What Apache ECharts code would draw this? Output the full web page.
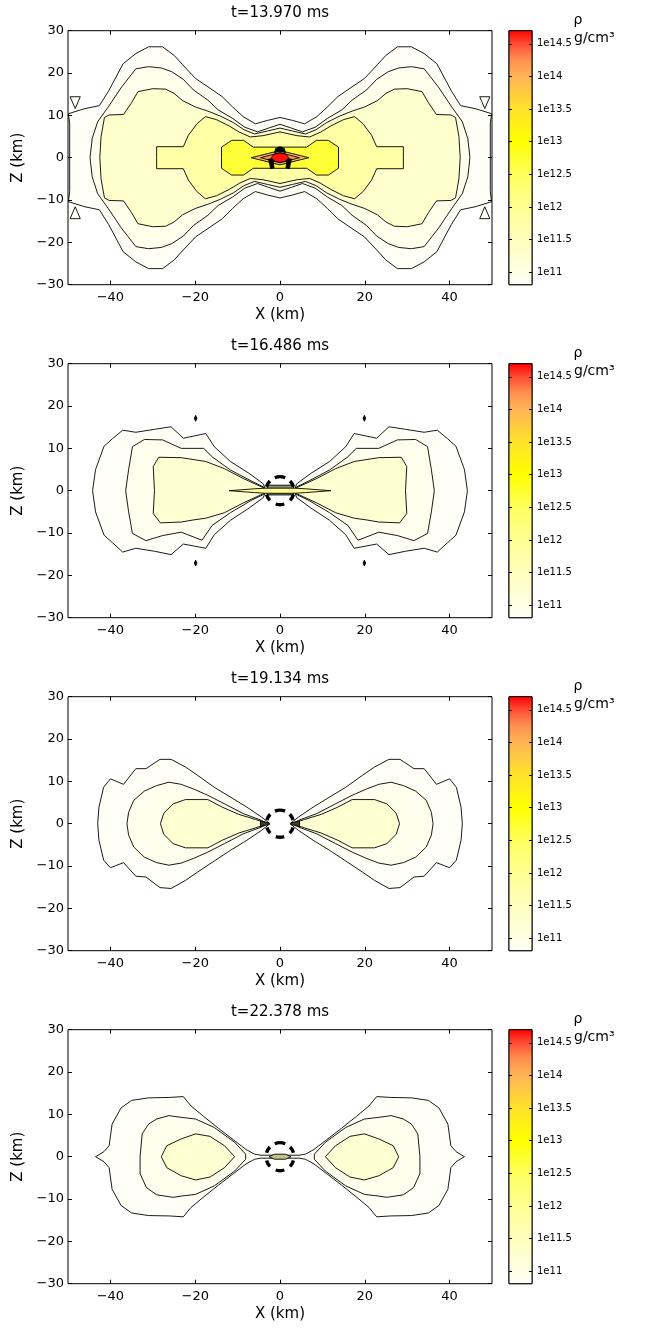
<!DOCTYPE html>
<html><head><meta charset="utf-8">
<script src="https://cdn.jsdelivr.net/npm/echarts@6/dist/echarts.min.js"></script>
<style>html,body{margin:0;padding:0;background:#fff}#c{width:646px;height:1328px}</style>
</head><body><div id="c"></div>
<script>
// ---------------- data ----------------
const titles = ['t=13.970 ms', 't=16.486 ms', 't=19.134 ms', 't=22.378 ms'];
const xRange = [-50, 50];
const zRange = [-30, 30];
const xTicks = [-40, -20, 0, 20, 40];
const cbRange = [10.81, 14.7];
const cbTicks = [11, 11.5, 12, 12.5, 13, 13.5, 14, 14.5];
const cbTickLabels = ['1e11', '1e11.5', '1e12', '1e12.5', '1e13', '1e13.5', '1e14', '1e14.5'];
const cmapValues = [10.81, 11.0, 11.5, 12.0, 12.5, 13.0, 13.5, 14.0, 14.25, 14.5, 14.7];
const cmapColors = ['#fffff8', '#ffffe6', '#ffffbe', '#ffff94', '#ffff5e', '#ffff00', '#ffe22a', '#ffb456', '#ff9050', '#ff4a34', '#ff0000'];

// panel 1 (t=13.970 ms)
const p1A = [[-49.9,10.4],[-46,11.6],[-42.6,12.3],[-40.4,15.8],[-37,22.2],[-34,24.6],[-31,26.2],[-27.7,26.2],[-25,24.2],[-23,22],[-19.9,18.7],[-16.5,16.4],[-13.6,14.4],[-11.2,12],[-8.7,9.7],[-5.8,8],[-3,8.8],[0,9.5],[3,8.8],[5.8,8],[8.7,9.7],[11.2,12],[13.6,14.4],[16.5,16.4],[19.9,18.7],[23,22],[25,24.2],[27.7,26.2],[31,26.2],[34,24.6],[37,22.2],[40.4,15.8],[42.6,12.3],[46,11.6],[49.9,10.4],[49.6,8],[49.6,-8],[49.9,-10.4],[46,-11.6],[42.6,-12.3],[40.4,-15.8],[37,-22.2],[34,-24.6],[31,-26.2],[27.7,-26.2],[25,-24.2],[23,-22],[19.9,-18.7],[16.5,-16.4],[13.6,-14.4],[11.2,-12],[8.7,-9.7],[5.8,-8],[3,-8.8],[0,-9.5],[-3,-8.8],[-5.8,-8],[-8.7,-9.7],[-11.2,-12],[-13.6,-14.4],[-16.5,-16.4],[-19.9,-18.7],[-23,-22],[-25,-24.2],[-27.7,-26.2],[-31,-26.2],[-34,-24.6],[-37,-22.2],[-40.4,-15.8],[-42.6,-12.3],[-46,-11.6],[-49.9,-10.4],[-49.6,-8],[-49.6,8]];
const p1B = [[-44.8,0],[-44.3,4.5],[-43,8.5],[-40.5,12],[-37.5,16.5],[-34,21],[-31,21.5],[-28,21.2],[-25.5,20.3],[-22.8,18.5],[-20.4,16],[-17,13.6],[-14.6,11.3],[-11.2,9.3],[-8.3,7.2],[-5.3,6.1],[-2.7,7],[0,7.9],[2.7,7],[5.3,6.1],[8.3,7.2],[11.2,9.3],[14.6,11.3],[17,13.6],[20.4,16],[22.8,18.5],[25.5,20.3],[28,21.2],[31,21.5],[34,21],[37.5,16.5],[40.5,12],[43,8.5],[44.3,4.5],[44.8,0],[44.3,-4.5],[43,-8.5],[40.5,-12],[37.5,-16.5],[34,-21],[31,-21.5],[28,-21.2],[25.5,-20.3],[22.8,-18.5],[20.4,-16],[17,-13.6],[14.6,-11.3],[11.2,-9.3],[8.3,-7.2],[5.3,-6.1],[2.7,-7],[0,-7.9],[-2.7,-7],[-5.3,-6.1],[-8.3,-7.2],[-11.2,-9.3],[-14.6,-11.3],[-17,-13.6],[-20.4,-16],[-22.8,-18.5],[-25.5,-20.3],[-28,-21.2],[-31,-21.5],[-34,-21],[-37.5,-16.5],[-40.5,-12],[-43,-8.5],[-44.3,-4.5]];
const p1C = [[-42.5,0],[-42.2,5],[-41.4,9.5],[-40.3,10.1],[-36.9,10.2],[-35,13],[-33.5,15.6],[-30,16.3],[-27,16.2],[-25,15.2],[-23,13.5],[-20,12],[-17,11],[-14,9.8],[-11,8.3],[-8.5,6.6],[-6,5.6],[-3,6.3],[0,7],[3,6.3],[6,5.6],[8.5,6.6],[11,8.3],[14,9.8],[17,11],[20,12],[23,13.5],[25,15.2],[27,16.2],[30,16.3],[33.5,15.6],[35,13],[36.9,10.2],[40.3,10.1],[41.4,9.5],[42.2,5],[42.5,0],[42.2,-5],[41.4,-9.5],[40.3,-10.1],[36.9,-10.2],[35,-13],[33.5,-15.6],[30,-16.3],[27,-16.2],[25,-15.2],[23,-13.5],[20,-12],[17,-11],[14,-9.8],[11,-8.3],[8.5,-6.6],[6,-5.6],[3,-6.3],[0,-7],[-3,-6.3],[-6,-5.6],[-8.5,-6.6],[-11,-8.3],[-14,-9.8],[-17,-11],[-20,-12],[-23,-13.5],[-25,-15.2],[-27,-16.2],[-30,-16.3],[-33.5,-15.6],[-35,-13],[-36.9,-10.2],[-40.3,-10.1],[-41.4,-9.5],[-42.2,-5]];
const p1D = [[-29.1,0],[-29.1,2.6],[-22.8,2.6],[-21.6,5.3],[-19.6,8],[-17.6,9.7],[-15,9],[-12,7.5],[-9.5,6],[-7,4.9],[-4,5.2],[0,6.1],[4,5.2],[7,4.9],[9.5,6],[12,7.5],[15,9],[17.6,9.7],[19.6,8],[21.6,5.3],[22.8,2.6],[29.1,2.6],[29.1,0],[29.1,-2.6],[22.8,-2.6],[21.6,-5.3],[19.6,-8],[17.6,-9.7],[15,-9],[12,-7.5],[9.5,-6],[7,-4.9],[4,-5.2],[0,-6.1],[-4,-5.2],[-7,-4.9],[-9.5,-6],[-12,-7.5],[-15,-9],[-17.6,-9.7],[-19.6,-8],[-21.6,-5.3],[-22.8,-2.6],[-29.1,-2.6]];
const p1E = [[-13.8,0],[-13.8,2.5],[-11.4,4.1],[-8.6,4.1],[-6.3,2.5],[6.3,2.5],[8.6,4.1],[11.4,4.1],[13.8,2.5],[13.8,-2.5],[11.4,-4.1],[8.6,-4.1],[6.3,-2.5],[-6.3,-2.5],[-8.6,-4.1],[-11.4,-4.1],[-13.8,-2.5]];
const p1F = [[-6.8,0],[0,1.7],[6.8,0],[0,-1.7]];
const p1G = [[-4.6,0],[0,1.2],[4.6,0],[0,-1.2]];
const p1H = [[-2.1,0],[-1.4,0.8],[0,1.1],[1.4,0.8],[2.1,0],[1.4,-0.8],[0,-1.1],[-1.4,-0.8]];
const p1T1 = [[-49.5,14.4],[-47.1,14.4],[-48.3,11.6]];
const p1T2 = [[-49.5,-14.4],[-47.1,-14.4],[-48.3,-11.6]];
const p1T3 = [[47.1,14.4],[49.5,14.4],[48.3,11.6]];
const p1T4 = [[47.1,-14.4],[49.5,-14.4],[48.3,-11.6]];
const p1Levels = [10.82, 10.95, 11.3, 11.8, 12.7, 13.95, 14.2, 14.65, 10.82, 10.82, 10.82, 10.82];
const p1K1 = [[-1.3,1.2],[-1.0,2.2],[0,2.6],[1.0,2.2],[1.3,1.2],[0,1.5]];
const p1K2 = [[-2.7,-0.3],[-1.7,-0.3],[-1.4,-2.4],[-2.2,-2.6]];
const p1K3 = [[1.7,-0.3],[2.7,-0.3],[2.2,-2.6],[1.4,-2.4]];

// panel 2 (t=16.486 ms)
const p2AL = [[-44.2,0],[-43.5,5],[-41.5,10.5],[-39.5,12.3],[-37.1,14.3],[-34,13.8],[-29.6,14.5],[-25.7,15.1],[-22.8,12.4],[-17.5,13.5],[-15.5,10.4],[-11.7,6.9],[-7.3,4.1],[-3.9,1.6],[-3.4,0],[-3.9,-1.6],[-7.3,-4.1],[-11.7,-7],[-15.5,-10.4],[-17.5,-13.6],[-22.8,-12.6],[-25.7,-15.1],[-29.6,-14.3],[-34,-13.6],[-37.1,-14.5],[-39.5,-12.3],[-41.5,-10.5],[-43.5,-5]];
const p2AR = [[44.2,0],[43.5,5],[41.5,10.5],[39.5,12.3],[37.1,14.3],[34,13.8],[29.6,14.5],[25.7,15.1],[22.8,12.4],[17.5,13.5],[15.5,10.4],[11.7,6.9],[7.3,4.1],[3.9,1.6],[3.4,0],[3.9,-1.6],[7.3,-4.1],[11.7,-7],[15.5,-10.4],[17.5,-13.6],[22.8,-12.6],[25.7,-15.1],[29.6,-14.3],[34,-13.6],[37.1,-14.5],[39.5,-12.3],[41.5,-10.5],[43.5,-5]];
const p2BL = [[-36.4,0],[-35.7,5],[-34.8,10.4],[-32,12.1],[-27.7,12],[-23.3,10],[-18,10],[-16,8],[-11.7,4.9],[-6.8,2.3],[-3.9,0.9],[-3.6,0],[-3.9,-0.9],[-6.8,-2.3],[-11.7,-5.2],[-16,-8.2],[-18.4,-11.7],[-23.3,-9.8],[-27.7,-10.6],[-31.6,-11.8],[-34.8,-10.1],[-35.7,-5]];
const p2BR = [[36.4,0],[35.7,5],[34.8,10.4],[32,12.1],[27.7,12],[23.3,10],[18,10],[16,8],[11.7,4.9],[6.8,2.3],[3.9,0.9],[3.6,0],[3.9,-0.9],[6.8,-2.3],[11.7,-5.2],[16,-8.2],[18.4,-11.7],[23.3,-9.8],[27.7,-10.6],[31.6,-11.8],[34.8,-10.1],[35.7,-5]];
const p2CL = [[-29.6,0],[-29.9,5.7],[-28.6,7.9],[-23.3,7.8],[-17.5,6.9],[-13.1,5.2],[-8.7,2.9],[-3.9,0.7],[-3.7,0],[-3.9,-0.7],[-8.7,-2.9],[-13.1,-5.2],[-17.5,-6.5],[-20.4,-6.9],[-23.3,-7.4],[-28.2,-7.6],[-29.9,-5.4]];
const p2CR = [[29.6,0],[29.9,5.7],[28.6,7.9],[23.3,7.8],[17.5,6.9],[13.1,5.2],[8.7,2.9],[3.9,0.7],[3.7,0],[3.9,-0.7],[8.7,-2.9],[13.1,-5.2],[17.5,-6.5],[20.4,-6.9],[23.3,-7.4],[28.2,-7.6],[29.9,-5.4]];
const p2S = [[-12,0],[-6,0.45],[-3.5,0.6],[3.5,0.6],[6,0.45],[12,0],[6,-0.45],[3.5,-0.6],[-3.5,-0.6],[-6,-0.45]];
const p2Levels = [10.82, 10.82, 10.93, 10.93, 11.25, 11.25];
const p2Box = [[-3,-1],[-3,1.3],[3.2,1.3],[3.2,-1]];
const p2D1 = [[-19.9,16.4],[-19.6,17.1],[-19.9,17.8],[-20.2,17.1]];
const p2D2 = [[19.9,16.4],[20.2,17.1],[19.9,17.8],[19.6,17.1]];
const p2D3 = [[-19.9,-16.4],[-19.6,-17.1],[-19.9,-17.8],[-20.2,-17.1]];
const p2D4 = [[19.9,-16.4],[20.2,-17.1],[19.9,-17.8],[19.6,-17.1]];
const p2SLevel = 12.0;

// panel 3 (t=19.134 ms)
const p3AL = [[-43,0],[-42.7,3.9],[-41.6,8.6],[-40,10.6],[-36.9,9.3],[-34,13],[-31.6,13],[-28.3,15.2],[-25.7,15.2],[-22.3,13.4],[-19.4,11.4],[-15.5,8.6],[-11.7,6.3],[-7.8,3.9],[-4.4,1.6],[-2.6,0.2],[-2.6,-0.2],[-4.4,-1.6],[-7.8,-3.9],[-11.7,-6.3],[-15.5,-8.8],[-19.4,-11.4],[-22.3,-13.4],[-25.7,-15.3],[-28.3,-15.1],[-31.6,-12.6],[-34,-12.4],[-36.9,-9.2],[-40,-10.4],[-41.6,-8.6],[-42.7,-3.9]];
const p3AR = [[43,0],[42.7,3.9],[41.6,8.6],[40,10.6],[36.9,9.3],[34,13],[31.6,13],[28.3,15.2],[25.7,15.2],[22.3,13.4],[19.4,11.4],[15.5,8.6],[11.7,6.3],[7.8,3.9],[4.4,1.6],[2.6,0.2],[2.6,-0.2],[4.4,-1.6],[7.8,-3.9],[11.7,-6.3],[15.5,-8.8],[19.4,-11.4],[22.3,-13.4],[25.7,-15.3],[28.3,-15.1],[31.6,-12.6],[34,-12.4],[36.9,-9.2],[40,-10.4],[41.6,-8.6],[42.7,-3.9]];
const p3BL = [[-36.1,0],[-35.7,2.7],[-34.5,5.5],[-32,7.7],[-29.1,9],[-26.2,9.8],[-23.3,9.3],[-20.4,8.2],[-17,6.7],[-13.1,4.7],[-8.7,2.4],[-4.4,0.8],[-3,0],[-4.4,-0.8],[-8.7,-2.4],[-13.1,-4.7],[-17,-6.7],[-20.4,-8.2],[-23.3,-9.3],[-26.2,-9.8],[-29.1,-9.2],[-32,-7.9],[-34.5,-5.5],[-35.7,-2.7]];
const p3BR = [[36.1,0],[35.7,2.7],[34.5,5.5],[32,7.7],[29.1,9],[26.2,9.8],[23.3,9.3],[20.4,8.2],[17,6.7],[13.1,4.7],[8.7,2.4],[4.4,0.8],[3,0],[4.4,-0.8],[8.7,-2.4],[13.1,-4.7],[17,-6.7],[20.4,-8.2],[23.3,-9.3],[26.2,-9.8],[29.1,-9.2],[32,-7.9],[34.5,-5.5],[35.7,-2.7]];
const p3CL = [[-28.2,0],[-27.4,2.5],[-25.2,4.7],[-22.3,5.7],[-17,5.7],[-13.6,3.9],[-9.7,2.2],[-5.8,1.0],[-3.6,0.25],[-3.6,-0.25],[-5.8,-1.0],[-9.7,-2.2],[-13.6,-3.9],[-17,-5.7],[-22.3,-5.7],[-25.2,-4.7],[-27.4,-2.5]];
const p3CR = [[28.2,0],[27.4,2.5],[25.2,4.7],[22.3,5.7],[17,5.7],[13.6,3.9],[9.7,2.2],[5.8,1.0],[3.6,0.25],[3.6,-0.25],[5.8,-1.0],[9.7,-2.2],[13.6,-3.9],[17,-5.7],[22.3,-5.7],[25.2,-4.7],[27.4,-2.5]];
const p3Levels = [10.82, 10.82, 10.93, 10.93, 11.25, 11.25];
const p3TL = [[-4.6,0.7],[-2.5,0.15],[-2.5,-0.15],[-4.6,-0.7]];
const p3TR = [[4.6,0.7],[2.5,0.15],[2.5,-0.15],[4.6,-0.7]];

// panel 4 (t=22.378 ms)
const p4A = [[-43.5,0],[-41.5,1.2],[-40.3,2.6],[-39.6,7.7],[-37.5,11.5],[-35,13.3],[-31,13.9],[-26,14],[-22.8,14.2],[-21,12],[-18,9.5],[-14.5,6.7],[-11,4],[-8,1.7],[-6,0.6],[-4.5,0.35],[4.5,0.35],[6,0.6],[8,1.7],[11,4],[14.5,6.7],[18,9.5],[21,12],[22.8,14.2],[26,14],[31,13.9],[35,13.3],[37.5,11.5],[39.6,7.7],[40.3,2.6],[41.5,1.2],[43.5,0],[41.5,-1.2],[40.3,-2.6],[39.6,-7.7],[37.5,-11.5],[35,-13.3],[31,-13.9],[26,-14],[22.8,-14.2],[21,-12],[18,-9.5],[14.5,-6.7],[11,-4],[8,-1.7],[6,-0.6],[4.5,-0.35],[-4.5,-0.35],[-6,-0.6],[-8,-1.7],[-11,-4],[-14.5,-6.7],[-18,-9.5],[-21,-12],[-22.8,-14.2],[-26,-14],[-31,-13.9],[-35,-13.3],[-37.5,-11.5],[-39.6,-7.7],[-40.3,-2.6],[-41.5,-1.2]];
const p4BL = [[-33,0],[-32.5,5.4],[-31,7.7],[-29.1,8.9],[-26.2,9.7],[-23.3,9.3],[-19.9,8.9],[-15.5,6.9],[-10.7,3.4],[-8.1,0.6],[-8.1,-0.6],[-10.7,-3.4],[-15.5,-6.9],[-19.9,-8.9],[-23.3,-9.3],[-25.2,-9.6],[-29.1,-9],[-31.5,-7.3],[-33,-4]];
const p4BR = [[33,0],[32.5,5.4],[31,7.7],[29.1,8.9],[26.2,9.7],[23.3,9.3],[19.9,8.9],[15.5,6.9],[10.7,3.4],[8.1,0.6],[8.1,-0.6],[10.7,-3.4],[15.5,-6.9],[19.9,-8.9],[23.3,-9.3],[25.2,-9.6],[29.1,-9],[31.5,-7.3],[33,-4]];
const p4CL = [[-28,0],[-26.7,2.6],[-23.3,4.2],[-19.9,5.4],[-16.5,4.8],[-13.1,2.6],[-10.7,0],[-13.1,-2.6],[-16.5,-4.8],[-19.9,-5.5],[-23.3,-4.5],[-26.7,-2.6]];
const p4CR = [[28,0],[26.7,2.6],[23.3,4.2],[19.9,5.4],[16.5,4.8],[13.1,2.6],[10.7,0],[13.1,-2.6],[16.5,-4.8],[19.9,-5.5],[23.3,-4.5],[26.7,-2.6]];
const p4Levels = [10.82, 10.93, 10.93, 11.25, 11.25];
const p4Core = [[-2.6,0],[-1.3,0.6],[1.3,0.6],[2.6,0],[1.3,-0.6],[-1.3,-0.6]];

// dashed ring (km) around the centre in panels 2-4
const ringCenter = [0, 0];
const ringRadius = [null, 3.3, 3.2, 3.3];

// ---------------- helpers ----------------
function hex2rgb(h){return [parseInt(h.slice(1,3),16),parseInt(h.slice(3,5),16),parseInt(h.slice(5,7),16)];}
function cmap(v){
  if (v <= cmapValues[0]) return cmapColors[0];
  for (let k = 0; k < cmapValues.length - 1; k++) {
    if (v <= cmapValues[k+1]) {
      const t = (v - cmapValues[k]) / (cmapValues[k+1] - cmapValues[k]);
      const a = hex2rgb(cmapColors[k]), b = hex2rgb(cmapColors[k+1]);
      return 'rgb(' + a.map((c,i)=>Math.round(c + (b[i]-c)*t)).join(',') + ')';
    }
  }
  return cmapColors[cmapColors.length-1];
}
const FONT = 'DejaVu Sans';
const fmtMinus = v => (v < 0 ? '\u2212' + Math.abs(v) : String(v));

const panels = [
  { polys: [p1A,p1B,p1C,p1D,p1E,p1F,p1G,p1H,p1T1,p1T2,p1T3,p1T4], levels: p1Levels,
    solids: [[p1K1,'#000'],[p1K2,'#000'],[p1K3,'#000']] },
  { polys: [p2AL,p2AR,p2BL,p2BR,p2CL,p2CR], levels: p2Levels,
    solids: [[p2Box,'#8e8e72'],[p2S,cmap(p2SLevel)],[p2D1,'#000'],[p2D2,'#000'],[p2D3,'#000'],[p2D4,'#000']] },
  { polys: [p3AL,p3AR,p3BL,p3BR,p3CL,p3CR], levels: p3Levels,
    solids: [[p3TL,'#3a3a30'],[p3TR,'#3a3a30']] },
  { polys: [p4A,p4BL,p4BR,p4CL,p4CR], levels: p4Levels,
    solids: [[p4Core,'#c2c288']] }
];

const tops = [30.7, 363.7, 696.7, 1029.7];
const grids = [], xAxes = [], yAxes = [], series = [], gfx = [];

function mainX(gi, pos, withLabels){
  return { type:'value', gridIndex:gi, position:pos, min:xRange[0], max:xRange[1], z:10,
    axisLine:{show:false, onZero:false}, splitLine:{show:false},
    axisTick:{show:true, inside:true, length:4, customValues:xTicks, lineStyle:{color:'#000', width:1}},
    axisLabel: withLabels ? {show:true, customValues:xTicks, margin:6, fontFamily:FONT, fontSize:13, color:'#000', formatter:fmtMinus} : {show:false},
    name: withLabels ? 'X (km)' : '', nameLocation:'middle', nameGap:23,
    nameTextStyle:{fontFamily:FONT, fontSize:15, color:'#000'} };
}
function mainY(gi, pos, withLabels){
  return { type:'value', gridIndex:gi, position:pos, min:zRange[0], max:zRange[1], interval:10, z:10,
    axisLine:{show:false, onZero:false}, splitLine:{show:false},
    axisTick:{show:true, inside:true, length:4, lineStyle:{color:'#000', width:1}},
    axisLabel: withLabels ? {show:true, margin:4, fontFamily:FONT, fontSize:13, color:'#000', formatter:fmtMinus} : {show:false},
    name: withLabels ? 'Z (km)' : '', nameLocation:'middle', nameGap:31, nameRotate:90,
    nameTextStyle:{fontFamily:FONT, fontSize:15, color:'#000'} };
}
function cbY(gi, pos, withLabels){
  return { type:'value', gridIndex:gi, position:pos, min:cbRange[0], max:cbRange[1], z:10,
    axisLine:{show:false, onZero:false}, splitLine:{show:false},
    axisTick:{show:true, inside:true, length:3, customValues:cbTicks, lineStyle:{color:'#000', width:1}},
    axisLabel: withLabels ? {show:true, customValues:cbTicks, margin:5, fontFamily:FONT, fontSize:10, color:'#000',
      formatter: v => { const k = cbTicks.findIndex(t => Math.abs(t - v) < 1e-6); return k >= 0 ? cbTickLabels[k] : ''; }} : {show:false} };
}

const ringArcs = [[90,22],[150,14],[210,14],[270,18],[330,14],[30,14]];

panels.forEach((P, i) => {
  const T = tops[i];
  const gm = grids.length;
  grids.push({left:68, top:T, width:424, height:254, show:true, borderColor:'#000', borderWidth:1, backgroundColor:'#fff'});
  const gc = grids.length;
  grids.push({left:509, top:T, width:23, height:254, show:true, borderColor:'#000', borderWidth:1, backgroundColor:'#fff'});
  const xm = xAxes.length; xAxes.push(mainX(gm,'bottom',true)); xAxes.push(mainX(gm,'top',false));
  const xc = xAxes.length; xAxes.push({type:'value', gridIndex:gc, min:0, max:1, show:false, axisLine:{onZero:false}});
  const ym = yAxes.length; yAxes.push(mainY(gm,'left',true)); yAxes.push(mainY(gm,'right',false));
  const yc = yAxes.length; yAxes.push(cbY(gc,'left',false)); yAxes.push(cbY(gc,'right',true));

  // filled contour polygons
  series.push({ type:'custom', xAxisIndex:xm, yAxisIndex:ym, clip:true, silent:true, z:2,
    data: P.polys.map(p => p[0]),
    renderItem: (params, api) => {
      const pts = P.polys[params.dataIndex].map(pt => api.coord(pt));
      return {type:'polygon', shape:{points:pts},
        style:{fill: cmap(P.levels[params.dataIndex]), stroke:'#000', lineWidth:0.9, lineJoin:'round'}};
    }});
  // special solid marks
  series.push({ type:'custom', xAxisIndex:xm, yAxisIndex:ym, clip:true, silent:true, z:3,
    data: P.solids.map(s => s[0][0]),
    renderItem: (params, api) => {
      const s = P.solids[params.dataIndex];
      return {type:'polygon', shape:{points:s[0].map(pt => api.coord(pt))},
        style:{fill:s[1], stroke:'#000', lineWidth:0.9}};
    }});
  // dashed ring
  if (ringRadius[i]) {
    series.push({ type:'custom', xAxisIndex:xm, yAxisIndex:ym, clip:true, silent:true, z:4,
      data: [ringCenter],
      renderItem: (params, api) => {
        const c = api.coord(ringCenter);
        const r = api.size([ringRadius[i], ringRadius[i]])[0];
        return {type:'group', children: ringArcs.map(([cd, hd]) => ({type:'arc',
          shape:{cx:c[0], cy:c[1], r:r, startAngle:-(cd+hd)*Math.PI/180, endAngle:-(cd-hd)*Math.PI/180, clockwise:true},
          style:{stroke:'#000', lineWidth:3.4, fill:'none', lineCap:'butt'}}))};
      }});
  }
  // colorbar
  series.push({ type:'custom', xAxisIndex:xc, yAxisIndex:yc, silent:true, z:2,
    data: [[0, cbRange[0]]],
    renderItem: (params, api) => {
      const p0 = api.coord([0, cbRange[1]]), p1 = api.coord([1, cbRange[0]]);
      const stops = cmapValues.map((v,k) => ({offset:(cbRange[1]-v)/(cbRange[1]-cbRange[0]), color:cmapColors[k]})).reverse();
      return {type:'rect', shape:{x:p0[0], y:p0[1], width:p1[0]-p0[0], height:p1[1]-p0[1]},
        style:{fill:{type:'linear', x:0, y:0, x2:0, y2:1, colorStops:stops}, stroke:'#000', lineWidth:1}};
    }});

  gfx.push({type:'text', x:280, y:T-18, z:20,
    style:{text:titles[i], fill:'#000', font:'15px "DejaVu Sans"', textAlign:'center', textVerticalAlign:'middle'}});
  gfx.push({type:'text', x:578, y:T-10, z:20,
    style:{text:'\u03c1', fill:'#000', font:'14px "DejaVu Sans"', textAlign:'center', textVerticalAlign:'middle'}});
  gfx.push({type:'text', x:574, y:T+8, z:20,
    style:{text:'g/cm\u00b3', fill:'#000', font:'14px "DejaVu Sans"', textAlign:'left', textVerticalAlign:'middle'}});
});

const chart = echarts.init(document.getElementById('c'), null, {renderer:'canvas'});
chart.setOption({
  animation:false,
  backgroundColor:'#fff',
  grid: grids, xAxis: xAxes, yAxis: yAxes, series: series,
  graphic: {elements: gfx}
});
</script>
</body></html>
